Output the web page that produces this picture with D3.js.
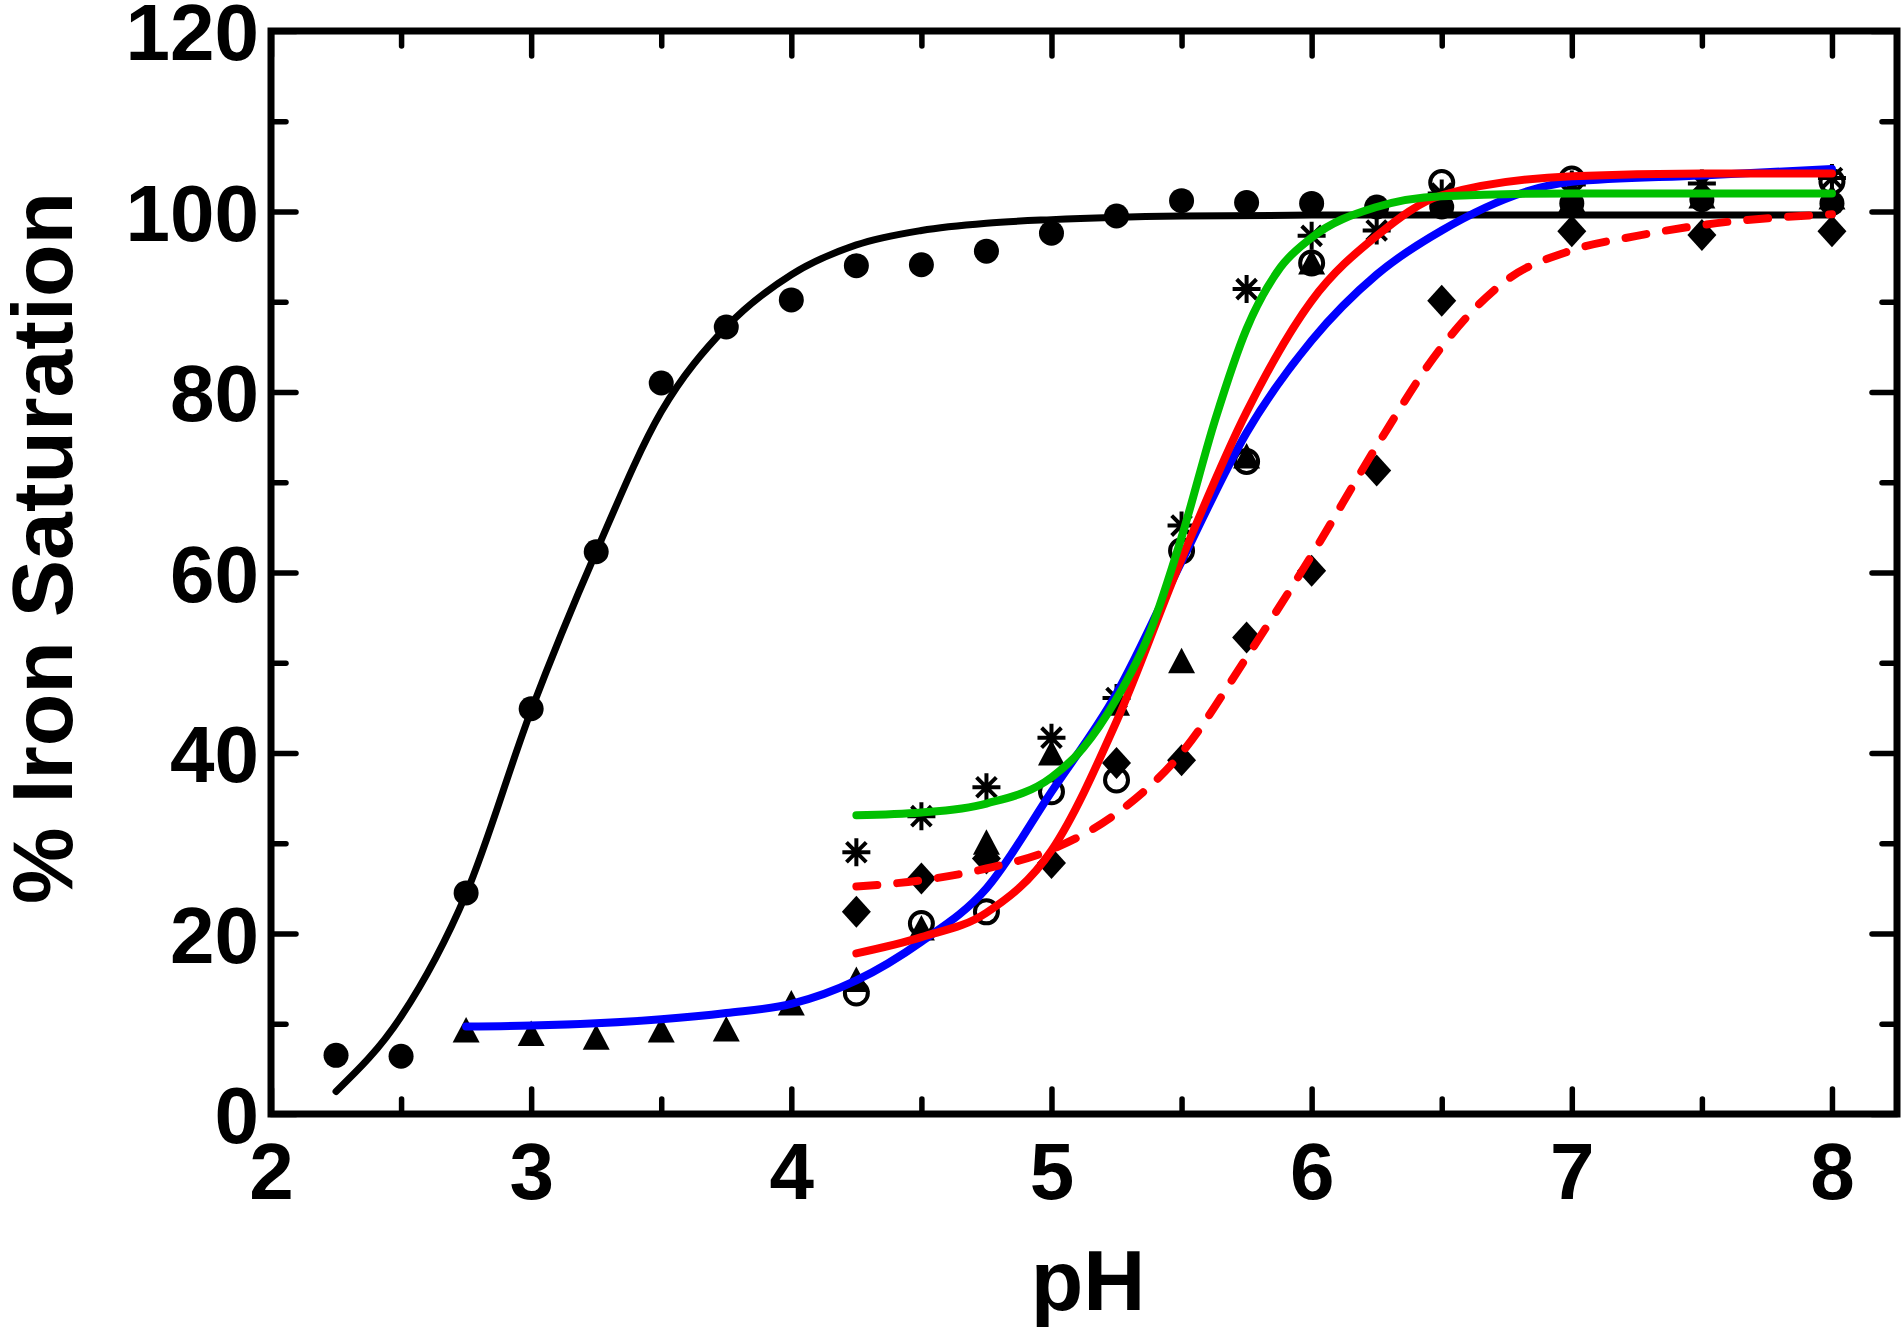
<!DOCTYPE html>
<html><head><meta charset="utf-8">
<script src="https://cdn.jsdelivr.net/npm/d3@7"></script>
<style>
body{margin:0;background:#fff}
svg{display:block}
text{font-family:"Liberation Sans",Arial,Helvetica,sans-serif;font-weight:bold;fill:#000}
</style>
</head><body>
<svg id="chart" width="1904" height="1327"></svg>
<script>
// ---- tick labels ----
const xMajorTicks = [2, 3, 4, 5, 6, 7, 8];
const xMinorTicks = [2.5, 3.5, 4.5, 5.5, 6.5, 7.5];
const yMajorTicks = [0, 20, 40, 60, 80, 100, 120];
const yMinorTicks = [10, 30, 50, 70, 90, 110];
const xTitle = "pH";
const yTitle = "% Iron Saturation";

// ---- data: filled circles ----
const circlePH  = [2.25, 2.5, 2.75, 3.0, 3.25, 3.5, 3.75, 4.0, 4.25, 4.5, 4.75, 5.0, 5.25, 5.5, 5.75, 6.0, 6.25, 6.5, 7.0, 7.5, 8.0];
const circleSat = [6.5, 6.4, 24.5, 44.9, 62.3, 81.0, 87.2, 90.2, 94.0, 94.1, 95.6, 97.6, 99.5, 101.2, 101.0, 100.9, 100.5, 100.5, 100.9, 101.3, 100.9];
// ---- filled triangles ----
const trianglePH  = [2.75, 3.0, 3.25, 3.5, 3.75, 4.0, 4.25, 4.5, 4.75, 5.0, 5.25, 5.5, 5.75, 6.0, 6.5, 7.0, 7.5, 8.0];
const triangleSat = [9.2, 8.8, 8.4, 9.2, 9.3, 12.2, 14.8, 20.5, 30.0, 39.9, 45.4, 50.1, 72.8, 94.3, 100.8, 101.2, 101.6, 101.5];
// ---- open circles ----
const openPH  = [4.25, 4.5, 4.75, 5.0, 5.25, 5.5, 5.75, 6.0, 6.5, 7.0, 8.0];
const openSat = [13.4, 21.1, 22.4, 35.7, 37.0, 62.4, 72.3, 94.3, 103.2, 103.6, 103.3];
// ---- asterisks ----
const starPH  = [4.25, 4.5, 4.75, 5.0, 5.25, 5.5, 5.75, 6.0, 6.25, 6.5, 7.0, 7.5, 8.0];
const starSat = [29.0, 33.0, 36.2, 41.7, 46.1, 65.2, 91.4, 97.3, 97.9, 102.0, 103.0, 103.1, 103.7];
// ---- diamonds ----
const diamondPH  = [4.25, 4.5, 4.75, 5.0, 5.25, 5.5, 5.75, 6.0, 6.25, 6.5, 7.0, 7.5, 8.0];
const diamondSat = [22.4, 26.1, 28.3, 27.8, 38.9, 39.2, 52.8, 60.2, 71.3, 90.1, 97.8, 97.4, 97.8];

// ---- fitted curves ----
const blackFitPH  = [2.25, 2.5, 2.75, 3.0, 3.25, 3.5, 3.75, 4.0, 4.25, 4.5, 4.75, 5.0, 5.5, 6.0, 7.0, 8.0];
const blackFitSat = [2.5, 10.8, 24.4, 44.7, 62.3, 77.8, 87.2, 93.0, 96.3, 97.9, 98.7, 99.1, 99.5, 99.6, 99.6, 99.6];
const blueFitPH  = [2.75, 3.0, 3.5, 3.75, 4.0, 4.25, 4.5, 4.75, 5.0, 5.25, 5.5, 5.75, 6.0, 6.25, 6.5, 7.0, 7.5, 8.0];
const blueFitSat = [9.7, 9.8, 10.5, 11.2, 12.2, 14.8, 19.1, 25.0, 35.7, 46.6, 61.2, 75.5, 85.7, 93.0, 97.9, 103.3, 104.0, 104.7];
const redFitPH  = [4.25, 4.5, 4.75, 5.0, 5.25, 5.5, 5.75, 6.0, 6.25, 6.5, 7.0, 7.5, 8.0];
const redFitSat = [17.8, 19.6, 22.3, 29.2, 43.5, 61.5, 77.8, 90.1, 97.3, 101.8, 103.9, 104.2, 104.2];
const greenFitPH  = [4.25, 4.5, 4.75, 5.0, 5.12, 5.25, 5.38, 5.5, 5.63, 5.75, 5.88, 6.0, 6.25, 6.5, 7.0, 8.0];
const greenFitSat = [33.1, 33.4, 34.4, 37.3, 40.5, 46.0, 53.5, 63.9, 77.0, 87.0, 93.8, 97.1, 100.5, 101.7, 102.0, 102.0];
const dashFitPH  = [4.25, 4.5, 4.75, 5.0, 5.25, 5.5, 5.75, 6.0, 6.25, 6.5, 6.75, 7.0, 7.25, 7.5, 8.0];
const dashFitSat = [25.2, 25.9, 27.2, 29.3, 33.3, 40.0, 50.6, 61.9, 74.0, 85.0, 92.4, 95.7, 97.3, 98.5, 99.7];

const zip = (a, b) => a.map((v, i) => [v, b[i]]);

const svg = d3.select("#chart");
svg.append("rect").attr("width", 1904).attr("height", 1327).attr("fill", "#fff");

const x = d3.scaleLinear().domain([2, 8.25]).range([271, 1897]);
const y = d3.scaleLinear().domain([0, 120]).range([1114, 31]);

const styleAxis = g => {
  g.select(".domain").remove();
  g.selectAll(".tick line").attr("stroke", "#000").attr("stroke-width", 5.5).attr("stroke-linecap", "round");
  g.selectAll(".tick text").attr("font-size", 80).attr("font-weight", "bold")
    .attr("font-family", '"Liberation Sans", Arial, sans-serif').attr("fill", "#000");
};

// bottom
svg.append("g").attr("transform", `translate(0,${y(0)})`)
  .call(d3.axisBottom(x).tickValues(xMajorTicks).tickSize(-25).tickPadding(28).tickFormat(d3.format("d")))
  .call(styleAxis);
svg.append("g").attr("transform", `translate(0,${y(0)})`)
  .call(d3.axisBottom(x).tickValues(xMinorTicks).tickSize(-15).tickFormat(""))
  .call(styleAxis);
// top
svg.append("g").attr("transform", `translate(0,${y(120)})`)
  .call(d3.axisTop(x).tickValues(xMajorTicks).tickSize(-25).tickFormat(""))
  .call(styleAxis);
svg.append("g").attr("transform", `translate(0,${y(120)})`)
  .call(d3.axisTop(x).tickValues(xMinorTicks).tickSize(-15).tickFormat(""))
  .call(styleAxis);
// left
svg.append("g").attr("transform", `translate(${x(2)},0)`)
  .call(d3.axisLeft(y).tickValues(yMajorTicks).tickSize(-25).tickPadding(12).tickFormat(d3.format("d")))
  .call(styleAxis)
  .call(g => g.selectAll(".tick text").attr("dy", "0.36em"));
svg.append("g").attr("transform", `translate(${x(2)},0)`)
  .call(d3.axisLeft(y).tickValues(yMinorTicks).tickSize(-15).tickFormat(""))
  .call(styleAxis);
// right
svg.append("g").attr("transform", `translate(${x(8.25)},0)`)
  .call(d3.axisRight(y).tickValues(yMajorTicks).tickSize(-25).tickFormat(""))
  .call(styleAxis);
svg.append("g").attr("transform", `translate(${x(8.25)},0)`)
  .call(d3.axisRight(y).tickValues(yMinorTicks).tickSize(-15).tickFormat(""))
  .call(styleAxis);

// frame
svg.append("rect")
  .attr("x", x(2)).attr("y", y(120))
  .attr("width", x(8.25) - x(2)).attr("height", y(0) - y(120))
  .attr("fill", "none").attr("stroke", "#000").attr("stroke-width", 7);

// titles
svg.append("text").attr("x", 1088).attr("y", 1310)
  .attr("text-anchor", "middle").attr("font-size", 86).text(xTitle);
svg.append("text").attr("transform", "translate(72,548) rotate(-90)")
  .attr("text-anchor", "middle").attr("font-size", 86).text(yTitle);

// markers
const mk = svg.append("g");
mk.selectAll("circle.filled").data(zip(circlePH, circleSat)).join("circle")
  .attr("class", "filled").attr("cx", d => x(d[0])).attr("cy", d => y(d[1])).attr("r", 12.5).attr("fill", "#000");

mk.selectAll("path.tri").data(zip(trianglePH, triangleSat)).join("path")
  .attr("class", "tri").attr("fill", "#000")
  .attr("d", d => { const cx = x(d[0]), cy = y(d[1]); return `M${cx},${cy - 14}L${cx + 13.5},${cy + 11.5}L${cx - 13.5},${cy + 11.5}Z`; });

mk.selectAll("circle.open").data(zip(openPH, openSat)).join("circle")
  .attr("class", "open").attr("cx", d => x(d[0])).attr("cy", d => y(d[1])).attr("r", 11.5)
  .attr("fill", "none").attr("stroke", "#000").attr("stroke-width", 4);

mk.selectAll("path.dia").data(zip(diamondPH, diamondSat)).join("path")
  .attr("class", "dia").attr("fill", "#000")
  .attr("d", d => { const cx = x(d[0]), cy = y(d[1]); return `M${cx},${cy - 16}L${cx + 14.5},${cy}L${cx},${cy + 16}L${cx - 14.5},${cy}Z`; });

mk.selectAll("path.star").data(zip(starPH, starSat)).join("path")
  .attr("class", "star").attr("fill", "none").attr("stroke", "#000").attr("stroke-width", 4)
  .attr("d", d => {
    const cx = x(d[0]), cy = y(d[1]), r = 14, p = d3.path();
    for (let k = 0; k < 4; k++) {
      const a = k * Math.PI / 4;
      p.moveTo(cx - r * Math.cos(a), cy - r * Math.sin(a));
      p.lineTo(cx + r * Math.cos(a), cy + r * Math.sin(a));
    }
    return p.toString();
  });

// curves
const line = d3.line().x(d => x(d[0])).y(d => y(d[1])).curve(d3.curveMonotoneX);
const curves = [
  {pts: zip(blackFitPH, blackFitSat), color: "#000000", w: 7, dash: null},
  {pts: zip(blueFitPH, blueFitSat), color: "#0000ff", w: 8, dash: null},
  {pts: zip(redFitPH, redFitSat), color: "#ff0000", w: 8, dash: null},
  {pts: zip(greenFitPH, greenFitSat), color: "#00c000", w: 8, dash: null},
  {pts: zip(dashFitPH, dashFitSat), color: "#ff0000", w: 8, dash: "21,20"}
];
svg.append("g").selectAll("path").data(curves).join("path")
  .attr("d", d => line(d.pts)).attr("fill", "none")
  .attr("stroke", d => d.color).attr("stroke-width", d => d.w)
  .attr("stroke-linecap", "round").attr("stroke-linejoin", "round")
  .attr("stroke-dasharray", d => d.dash);
</script>
</body></html>
